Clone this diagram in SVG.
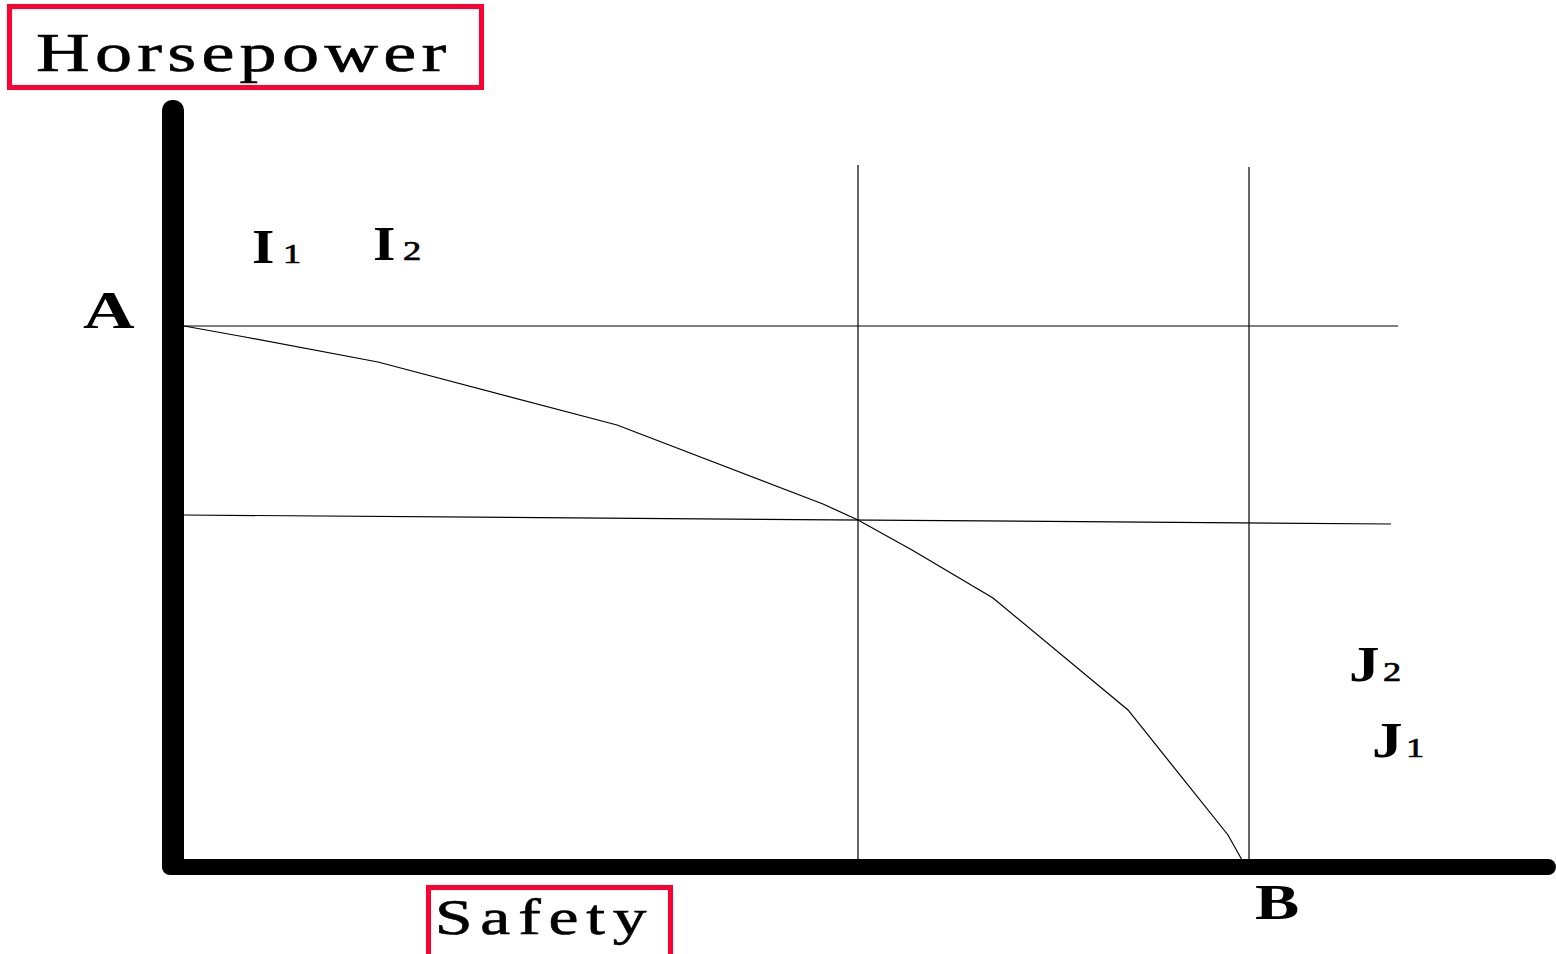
<svg xmlns="http://www.w3.org/2000/svg" width="1556" height="954" viewBox="0 0 1556 954">
<style>
.box{fill:none;stroke:#FF0033;stroke-width:5}
.ttl{font-family:"Liberation Serif",serif;font-size:55px;fill:#000;stroke:#000;stroke-width:0.6}
.lbl{font-family:"Liberation Serif",serif;font-weight:bold;fill:#000}
.sub{font-family:"Liberation Serif",serif;font-size:28px;fill:#000;stroke:#000;stroke-width:0.7}
.thin{stroke:#000;stroke-width:1.2;fill:none}
.axis{fill:#000}
</style>
<rect width="1556" height="954" fill="#fff"/>
<g id="axes">
<rect class="axis" x="162" y="100" width="22" height="775" rx="10" ry="10"/>
<rect class="axis" x="162" y="859" width="1394" height="16" rx="8" ry="8"/>
</g>
<g id="connectors">
<line class="thin" x1="184" y1="326" x2="1398" y2="326"/>
<line class="thin" x1="184" y1="515" x2="1391" y2="524"/>
<line class="thin" x1="858" y1="165" x2="858" y2="860"/>
<line class="thin" x1="1249" y1="167" x2="1249" y2="860"/>
<polyline class="thin" points="184,326 245,337 378,362 617,425 823,504 858,520 912,550 993,598 1128,710 1228,835 1242,860"/>
</g>
<g id="horsepower">
<rect class="box" x="9.5" y="6.5" width="472" height="81"/>
<text class="ttl" transform="translate(36,71) scale(1.35,1)" letter-spacing="3.9">Horsepower</text>
</g>
<g id="safety">
<rect class="box" x="428.5" y="887.5" width="242" height="90"/>
<text class="ttl" style="font-size:50px" transform="translate(435,934) scale(1.35,1)" letter-spacing="5.8">Safety</text>
</g>
<g id="label-A"><text class="lbl" font-size="53" transform="translate(83,328) scale(1.35,1)">A</text></g>
<g id="label-B"><text class="lbl" font-size="51" transform="translate(1255,919) scale(1.3,1)">B</text></g>
<g id="label-I1">
<text class="lbl" font-size="48" transform="translate(252,263) scale(1.2,1)">I</text>
<text class="sub" transform="translate(283,263) scale(1.3,1)">1</text>
</g>
<g id="label-I2">
<text class="lbl" font-size="48" transform="translate(373,260) scale(1.2,1)">I</text>
<text class="sub" transform="translate(403,260) scale(1.3,1)">2</text>
</g>
<g id="label-J2">
<text class="lbl" font-size="51" transform="translate(1349,681) scale(1.2,1)">J</text>
<text class="sub" transform="translate(1383,681) scale(1.3,1)">2</text>
</g>
<g id="label-J1">
<text class="lbl" font-size="51" transform="translate(1372,757) scale(1.2,1)">J</text>
<text class="sub" transform="translate(1406,757) scale(1.3,1)">1</text>
</g>
</svg>
